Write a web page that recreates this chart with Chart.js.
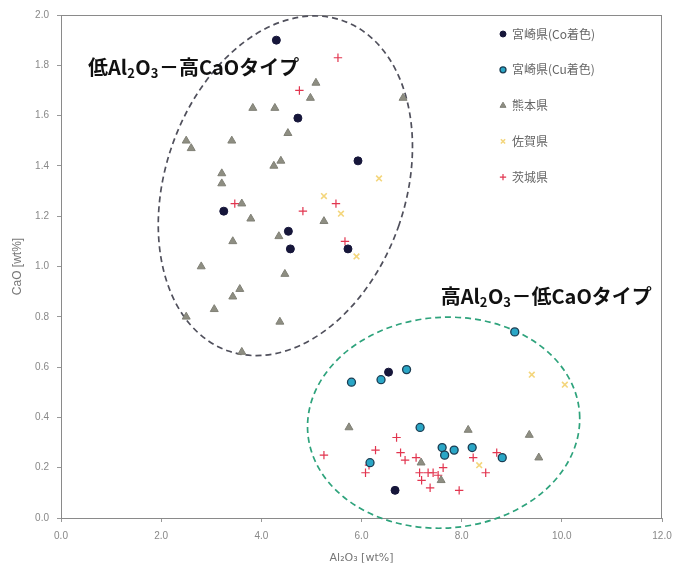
<!DOCTYPE html>
<html>
<head>
<meta charset="utf-8">
<script src="https://cdn.jsdelivr.net/npm/chart.js@4/dist/chart.umd.min.js"></script>
<style>
html,body{margin:0;padding:0;background:#fff;}
#wrap{width:673px;height:565px;}
</style>
</head>
<body>
<div id="wrap"><canvas id="c" width="673" height="565"></canvas></div>
<script>
// ---- data (Al2O3 [wt%], CaO [wt%]) ----
const seriesLabels = ['宮崎県(Co着色)', '宮崎県(Cu着色)', '熊本県', '佐賀県', '茨城県'];
const miyazakiCo = [[4.30,1.90],[4.73,1.59],[5.93,1.42],[3.25,1.22],[4.54,1.14],[4.58,1.07],[5.73,1.07],[6.54,0.58],[6.67,0.11]];
const miyazakiCu = [[5.80,0.54],[6.39,0.55],[6.90,0.59],[7.17,0.36],[7.61,0.28],[7.66,0.25],[7.85,0.27],[8.21,0.28],[6.17,0.22],[9.06,0.74],[8.81,0.24]];
const kumamoto = [[6.83,1.67],[5.09,1.73],[4.98,1.67],[3.83,1.63],[4.27,1.63],[4.53,1.53],[3.41,1.50],[4.25,1.40],[4.39,1.42],[3.21,1.37],[3.21,1.33],[2.50,1.50],[2.60,1.47],[3.61,1.25],[3.79,1.19],[3.43,1.10],[2.80,1.00],[3.57,0.91],[3.43,0.88],[3.06,0.83],[2.50,0.80],[3.61,0.66],[4.35,1.12],[5.25,1.18],[4.47,0.97],[4.37,0.78],[5.75,0.36],[8.13,0.35],[7.19,0.22],[7.59,0.15],[9.35,0.33],[9.54,0.24]];
const saga = [[6.35,1.35],[5.25,1.28],[5.59,1.21],[5.90,1.04],[9.40,0.57],[10.06,0.53],[8.35,0.21]];
const ibaraki = [[5.53,1.83],[4.76,1.70],[3.47,1.25],[4.83,1.22],[5.49,1.25],[5.67,1.10],[5.25,0.25],[6.28,0.27],[6.08,0.18],[6.15,0.21],[6.70,0.32],[6.78,0.26],[6.87,0.23],[7.09,0.24],[7.16,0.18],[7.20,0.15],[7.33,0.18],[7.43,0.18],[7.53,0.17],[7.63,0.20],[7.37,0.12],[7.95,0.11],[8.23,0.24],[8.48,0.18],[8.70,0.26]];
const xTicks = [0, 2, 4, 6, 8, 10, 12];
const yTicks = [0, 0.2, 0.4, 0.6, 0.8, 1.0, 1.2, 1.4, 1.6, 1.8, 2.0];
const groupLabels = [
  [{t:'低Al'},{t:'2',sub:true},{t:'O'},{t:'3',sub:true},{t:'－高CaOタイプ'}],
  [{t:'高Al'},{t:'2',sub:true},{t:'O'},{t:'3',sub:true},{t:'－低CaOタイプ'}]
];
const groupLabelPos = [[0.54, 1.79], [7.58, 0.88]];
// ellipses: center (data), radii (data units), rotation (deg, screen)
const ellipses = [
  {cx:4.48, cy:1.321, rx:2.40, ry:0.695, rot:19, color:'#50505c'},
  {cx:7.64, cy:0.379, rx:2.72, ry:0.419, rot:-4, color:'#2ea37c'}
];

const toXY = arr => arr.map(p => ({x:p[0], y:p[1]}));

const styles = [
  {pointStyle:'circle', radius:4, bg:'#16163a', border:'#16163a', bw:1},
  {pointStyle:'circle', radius:4, bg:'#2aa6c6', border:'#1c3d52', bw:1.3},
  {pointStyle:'triangle', radius:4.6, bg:'#8e8e82', border:'#808076', bw:1},
  {pointStyle:'crossRot', radius:4, bg:'#f4d67c', border:'#f4d67c', bw:1.6},
  {pointStyle:'cross', radius:4.2, bg:'#e2354f', border:'#e2354f', bw:1.2}
];
const seriesData = [miyazakiCo, miyazakiCu, kumamoto, saga, ibaraki];

const datasets = seriesData.map((d, i) => ({
  label: seriesLabels[i],
  data: toXY(d),
  pointStyle: styles[i].pointStyle,
  pointRadius: styles[i].radius,
  pointHoverRadius: styles[i].radius,
  backgroundColor: styles[i].bg,
  borderColor: styles[i].border,
  pointBorderWidth: styles[i].bw,
  borderWidth: styles[i].bw,
  showLine: false
}));

const CJK = '"Noto Sans CJK JP", "Noto Sans", sans-serif';

const decoPlugin = {
  id: 'deco',
  beforeDatasetsDraw(chart) {
    const ctx = chart.ctx, xs = chart.scales.x, ys = chart.scales.y, a = chart.chartArea;
    ctx.save();
    ctx.strokeStyle = '#8a8a8a';
    ctx.lineWidth = 1;
    ctx.strokeRect(a.left + 0.5, a.top + 0.5, a.right - a.left - 1, a.bottom - a.top);
    ctx.restore();
    ellipses.forEach(e => {
      const cx = xs.getPixelForValue(e.cx), cy = ys.getPixelForValue(e.cy);
      const rx = Math.abs(xs.getPixelForValue(e.cx + e.rx) - cx);
      const ry = Math.abs(ys.getPixelForValue(e.cy + e.ry) - cy);
      ctx.save();
      ctx.strokeStyle = e.color;
      ctx.lineWidth = 1.7;
      ctx.setLineDash([6, 4]);
      ctx.beginPath();
      ctx.ellipse(cx, cy, rx, ry, e.rot * Math.PI / 180, 0, Math.PI * 2);
      ctx.stroke();
      ctx.restore();
    });
  },
  afterDatasetsDraw(chart) {
    const ctx = chart.ctx, xs = chart.scales.x, ys = chart.scales.y, a = chart.chartArea;
    groupLabels.forEach((runs, k) => {
      let x = xs.getPixelForValue(groupLabelPos[k][0]);
      const y = ys.getPixelForValue(groupLabelPos[k][1]);
      ctx.save();
      ctx.fillStyle = '#111';
      ctx.textBaseline = 'middle';
      ctx.textAlign = 'left';
      runs.forEach(r => {
        ctx.font = r.sub ? 'bold 13px ' + CJK : 'bold 20px ' + CJK;
        ctx.fillText(r.t, x, r.sub ? y + 5 : y);
        x += ctx.measureText(r.t).width + (r.sub ? 0.5 : 0);
      });
      ctx.restore();
    });
    const lx = a.right - 159, ly0 = a.top + 19, dy = 35.8;
    chart.data.datasets.forEach((ds, i) => {
      const y = ly0 + dy * i;
      const st = styles[i];
      ctx.save();
      ctx.fillStyle = st.bg; ctx.strokeStyle = st.border; ctx.lineWidth = st.bw;
      Chart.helpers.drawPoint(ctx, {pointStyle: st.pointStyle, radius: st.radius * 0.75, borderWidth: st.bw, rotation: 0}, lx, y);
      ctx.fillStyle = '#666';
      ctx.font = '12px ' + CJK;
      ctx.textBaseline = 'middle';
      ctx.textAlign = 'left';
      ctx.fillText(ds.label, lx + 9, y);
      ctx.restore();
    });
  }
};

new Chart(document.getElementById('c'), {
  type: 'scatter',
  data: { datasets },
  options: {
    responsive: false,
    animation: false,
    devicePixelRatio: 1,
    layout: { padding: { top: 15, right: 11, left: 10, bottom: 0 } },
    plugins: { legend: { display: false }, tooltip: { enabled: false } },
    scales: {
      x: {
        type: 'linear', min: 0, max: 12,
        afterBuildTicks: s => { s.ticks = xTicks.map(v => ({value: v})); },
        afterFit: s => { s.height = 47; s.paddingRight = 0; s.paddingLeft = 0; },
        border: { display: false },
        grid: { display: true, drawOnChartArea: false, tickLength: 4, color: '#999' },
        ticks: { color: '#888', font: { family: 'Liberation Sans, Arial, sans-serif', size: 10 }, padding: 8, maxRotation: 0,
                 callback: v => Number(v).toFixed(1) },
        title: { display: true, text: 'Al₂O₃ [wt%]', color: '#777', font: { family: 'DejaVu Sans, sans-serif', size: 11 }, padding: { top: 1, bottom: 0 } }
      },
      y: {
        type: 'linear', min: 0, max: 2,
        afterBuildTicks: s => { s.ticks = yTicks.map(v => ({value: v})); },
        afterFit: s => { s.width = 51; s.paddingTop = 0; s.paddingBottom = 0; },
        border: { display: false },
        grid: { display: true, drawOnChartArea: false, tickLength: 4, color: '#999' },
        ticks: { color: '#888', font: { family: 'Liberation Sans, Arial, sans-serif', size: 10 }, padding: 8,
                 callback: v => Number(v).toFixed(1) },
        title: { display: true, text: 'CaO [wt%]', color: '#777', font: { family: 'Liberation Sans, Arial, sans-serif', size: 12 }, padding: { top: 0, bottom: 4 } }
      }
    }
  },
  plugins: [decoPlugin]
});
</script>
</body>
</html>
